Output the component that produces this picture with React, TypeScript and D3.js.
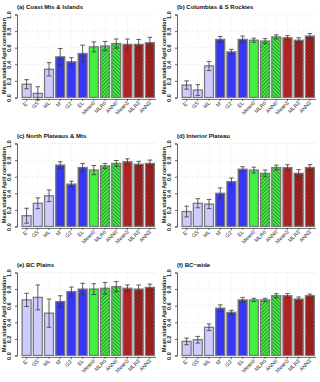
import React, { useRef, useEffect } from "react";
import * as d3 from "d3";

// model names along the x axis
const labels = ["E'", "GS", "ML", "M'", "G2'", "EL", "Mean6", "MLR6", "ANN6", "Mean3", "MLR3", "ANN3"];
const barColors = ["#ccccff", "#ccccff", "#ccccff", "#3636f5", "#3636f5", "#3636f5", "#44ee44", "#44ee44", "#44ee44", "#b22222", "#b22222", "#b22222"];
const hatch = ["", "", "", "", "", "", "", "mlr", "ann", "", "mlr", "ann"];

const titles = [
  "(a) Coast Mts & Islands",
  "(b) Columbias & S Rockies",
  "(c) North Plateaus & Mts",
  "(d) Interior Plateau",
  "(e) BC Plains",
  "(f) BC\u2212wide",
];

// mean correlation and error half-width, one pair of arrays per region
const meanA = [0.16, 0.05, 0.34, 0.49, 0.43, 0.53, 0.61, 0.62, 0.65, 0.64, 0.64, 0.66];
const errA = [0.055, 0.08, 0.08, 0.1, 0.05, 0.1, 0.06, 0.055, 0.055, 0.065, 0.06, 0.065];
const meanB = [0.15, 0.09, 0.38, 0.7, 0.55, 0.7, 0.69, 0.68, 0.73, 0.72, 0.69, 0.74];
const errB = [0.05, 0.065, 0.055, 0.035, 0.03, 0.04, 0.025, 0.03, 0.025, 0.025, 0.03, 0.03];
const meanC = [0.13, 0.28, 0.37, 0.74, 0.51, 0.71, 0.68, 0.73, 0.76, 0.78, 0.75, 0.76];
const errC = [0.09, 0.065, 0.07, 0.04, 0.035, 0.05, 0.055, 0.03, 0.035, 0.035, 0.035, 0.04];
const meanD = [0.18, 0.28, 0.27, 0.4, 0.54, 0.69, 0.68, 0.64, 0.71, 0.71, 0.64, 0.71];
const errD = [0.065, 0.055, 0.055, 0.065, 0.045, 0.03, 0.035, 0.04, 0.03, 0.035, 0.045, 0.035];
const meanE = [0.67, 0.7, 0.51, 0.65, 0.77, 0.8, 0.8, 0.81, 0.83, 0.81, 0.8, 0.82];
const errE = [0.08, 0.15, 0.17, 0.07, 0.055, 0.07, 0.065, 0.07, 0.06, 0.04, 0.05, 0.04];
const meanF = [0.17, 0.19, 0.34, 0.57, 0.52, 0.67, 0.67, 0.67, 0.72, 0.72, 0.68, 0.72];
const errF = [0.04, 0.04, 0.04, 0.04, 0.025, 0.03, 0.02, 0.02, 0.025, 0.025, 0.025, 0.02];

const means = [meanA, meanB, meanC, meanD, meanE, meanF];
const errs = [errA, errB, errC, errD, errE, errF];
const yTicks = [0, 0.2, 0.4, 0.6, 0.8, 1.0];

const W = 320,
  H = 382;
const panelW = 160,
  panelH = 129;
const font = "'Liberation Sans', Arial, sans-serif";

const App = () => {
  const ref = useRef(null);

  useEffect(() => {
    const svg = d3.select(ref.current);
    svg.selectAll("*").remove();

    const defs = svg.append("defs");
    const addHatch = (id, angle) => {
      const p = defs
        .append("pattern")
        .attr("id", id)
        .attr("patternUnits", "userSpaceOnUse")
        .attr("width", 2.5)
        .attr("height", 2.5)
        .attr("patternTransform", `rotate(${angle})`);
      p.append("line")
        .attr("x1", 0)
        .attr("y1", 0)
        .attr("x2", 0)
        .attr("y2", 2.5)
        .attr("stroke", "#111")
        .attr("stroke-width", 0.8);
    };
    addHatch("mlr", 45);
    addHatch("ann", -45);

    const x = d3.scaleBand().domain(labels).range([21, 155.5]).paddingInner(0.2).paddingOuter(0.1);
    const y = d3.scaleLinear().domain([0, 1]).range([97.5, 14.5]);

    titles.forEach((title, k) => {
      const col = k % 2,
        row = Math.floor(k / 2);
      const g = svg.append("g").attr("transform", `translate(${col * panelW},${row * panelH})`);
      const data = labels.map((l, i) => ({ label: l, v: means[k][i], e: errs[k][i], c: barColors[i], h: hatch[i] }));

      // dotted grid
      g.selectAll(".hg")
        .data(yTicks)
        .join("line")
        .attr("x1", 17)
        .attr("x2", 156)
        .attr("y1", (d) => y(d))
        .attr("y2", (d) => y(d))
        .attr("stroke", "#dcdcdc")
        .attr("stroke-width", 0.6)
        .attr("stroke-dasharray", "1,1.5");
      g.selectAll(".vg")
        .data(labels)
        .join("line")
        .attr("x1", (d) => x(d) + x.bandwidth() / 2)
        .attr("x2", (d) => x(d) + x.bandwidth() / 2)
        .attr("y1", y(0))
        .attr("y2", y(1))
        .attr("stroke", "#e2e2e2")
        .attr("stroke-width", 0.6)
        .attr("stroke-dasharray", "1,1.5");

      // bars
      g.selectAll(".bar")
        .data(data)
        .join("rect")
        .attr("x", (d) => x(d.label))
        .attr("y", (d) => y(d.v))
        .attr("width", x.bandwidth())
        .attr("height", (d) => y(0) - y(d.v))
        .attr("fill", (d) => d.c)
        .attr("stroke", "#7a7a7a")
        .attr("stroke-width", 1.3);
      g.selectAll(".hatch")
        .data(data.filter((d) => d.h))
        .join("rect")
        .attr("x", (d) => x(d.label) + 0.65)
        .attr("y", (d) => y(d.v) + 0.65)
        .attr("width", x.bandwidth() - 1.3)
        .attr("height", (d) => y(0) - y(d.v) - 1.3)
        .attr("fill", (d) => `url(#${d.h})`);

      // error bars
      const eb = g.selectAll(".eb").data(data).join("g");
      const cx = (d) => x(d.label) + x.bandwidth() / 2;
      eb.append("line")
        .attr("x1", cx)
        .attr("x2", cx)
        .attr("y1", (d) => y(d.v - d.e))
        .attr("y2", (d) => y(d.v + d.e))
        .attr("stroke", "#3a3a3a")
        .attr("stroke-width", 0.8);
      [1, -1].forEach((s) => {
        eb.append("line")
          .attr("x1", (d) => cx(d) - 2.3)
          .attr("x2", (d) => cx(d) + 2.3)
          .attr("y1", (d) => y(d.v + s * d.e))
          .attr("y2", (d) => y(d.v + s * d.e))
          .attr("stroke", "#3a3a3a")
          .attr("stroke-width", 0.8);
      });

      // y axis
      const yAxis = g
        .append("g")
        .attr("transform", "translate(17,0)")
        .call(d3.axisLeft(y).tickValues(yTicks).tickFormat(d3.format(".1f")).tickSize(2).tickPadding(2));
      yAxis.select(".domain").attr("stroke", "#222").attr("stroke-width", 0.7);
      yAxis.selectAll(".tick line").attr("stroke", "#222").attr("stroke-width", 0.7);
      yAxis
        .selectAll(".tick text")
        .attr("font-family", font)
        .attr("font-size", 5.6)
        .attr("font-weight", "bold")
        .attr("fill", "#222")
        .attr("x", null)
        .attr("dy", null)
        .attr("text-anchor", "middle")
        .attr("transform", "translate(-6,0) rotate(-90)");

      // x axis
      const xAxis = g
        .append("g")
        .attr("transform", `translate(0,${y(0) + 1.5})`)
        .call(d3.axisBottom(x).tickSize(2).tickSizeOuter(0).tickPadding(1));
      xAxis.select(".domain").attr("stroke", "#222").attr("stroke-width", 0.6);
      xAxis.selectAll(".tick line").attr("stroke", "#222").attr("stroke-width", 0.6);
      xAxis
        .selectAll(".tick text")
        .attr("font-family", font)
        .attr("font-size", 5.3)
        .attr("fill", "#222")
        .attr("y", 0)
        .attr("dy", null)
        .attr("text-anchor", "end")
        .attr("transform", "translate(1.5,4.5) rotate(-45)");

      // y label and title
      g.append("text")
        .attr("transform", `translate(5.5,${(y(0) + y(1)) / 2}) rotate(-90)`)
        .attr("text-anchor", "middle")
        .attr("font-family", font)
        .attr("font-size", 5.4)
        .attr("font-weight", "bold")
        .attr("fill", "#111")
        .text("Mean station April correlation");
      g.append("text")
        .attr("x", 17)
        .attr("y", 8.5)
        .attr("font-family", font)
        .attr("font-size", 6)
        .attr("font-weight", "bold")
        .attr("fill", "#111")
        .text(title);
    });
  }, []);

  return (
    <svg
      ref={ref}
      width={W}
      height={H}
      style={{ position: "absolute", left: 0, top: 0, background: "#fff" }}
    ></svg>
  );
};

export default App;
